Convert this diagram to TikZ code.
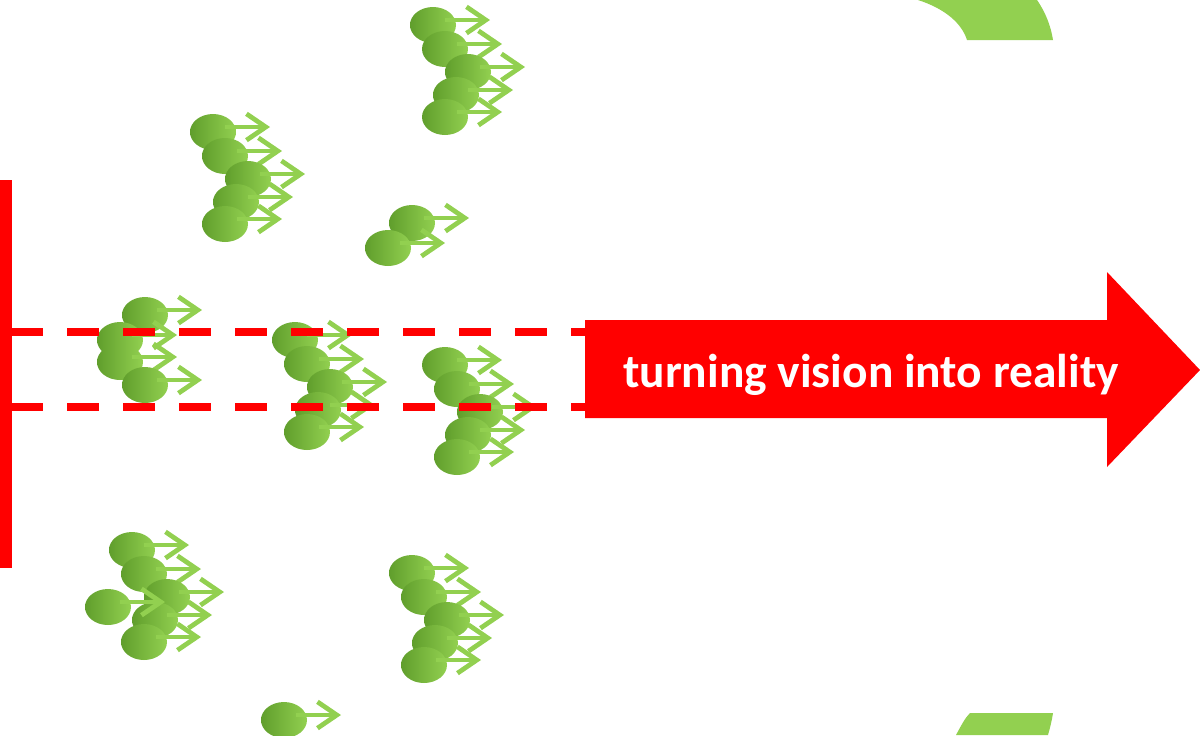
\documentclass[tikz,border=0pt]{standalone}
\usepackage{fontspec}
\setmainfont{Carlito}
\usepackage{xcolor}
\definecolor{gmred}{RGB}{255,0,0}
\definecolor{gmleaf}{RGB}{146,208,80}
\definecolor{gmleafdark}{RGB}{96,158,44}
\usepackage{tikz}
\usetikzlibrary{arrows.meta, shapes.geometric}

% one ellipse with its arrow
\newcommand{\sprout}[3]{%
  \node[sprout] (#1) at (#2,#3) {};
  \coordinate (#1-tip) at ([shift={(57,-5)}]#1.center);
  \draw[sproutarr] ([shift={(12,-5)}]#1.center) -- (#1-tip);
}
% five of them, top one at (#2,#3)
\newcommand{\sproutgroup}[3]{%
  \foreach \dx/\dy [count=\k] in {0/0, 12/24, 35/47, 23/70, 12/92}
    {\sprout{#1\k}{#2+\dx}{#3+\dy}}
}

\begin{document}
\begin{tikzpicture}[x=0.02cm, y=-0.02cm,
  sprout/.style={ellipse, inner sep=0pt, minimum width=0.92cm, minimum height=0.72cm,
                 left color=gmleafdark, right color=gmleaf},
  sproutarr/.style={draw=gmleaf, line width=2.7pt, -{Straight Barb[length=11pt, width=15pt]}},
  dashrule/.style={draw=gmred, line width=4.5pt, dash pattern=on 18.2pt off 13.7pt}
]
\useasboundingbox (0,0) rectangle (1200,735);

% Cycle pieces at the right
\fill[gmleaf] (918,0) -- (1037,0) .. controls (1046,13) and (1051,27) .. (1053,40)
  -- (967,40) .. controls (962,24) and (946,9) .. (918,0);
\fill[gmleaf] (970,713) -- (1053,713) .. controls (1052,720) and (1050,728) .. (1048,735)
  -- (956,735) .. controls (962,724) and (965,718) .. (970,713);

% Groups
\sproutgroup{a}{433}{25}
\sproutgroup{b}{213}{132}
\sprout{c1}{412}{223}
\sprout{c2}{388}{248}
\sprout{d1}{145}{315}
\sprout{d2}{120}{340}
\sprout{d3}{120}{362}
\sprout{d4}{145}{385}
\sproutgroup{e}{295}{340}
\sproutgroup{f}{445}{365}
\sproutgroup{g}{132}{550}
\sprout{g6}{108}{607}
\sproutgroup{h}{412}{573}
\sprout{i1}{284}{720}

% Corridor
\draw[dashrule] (11,332) -- (585,332);
\draw[dashrule] (11,407) -- (585,407);
\fill[gmred] (0,180) rectangle (12,568);

% Direction arrow
\fill[gmred] (585,320) -- (1107,320) -- (1107,272) -- (1200,370)
  -- (1107,467) -- (1107,418) -- (585,418) -- cycle;
\node[anchor=base, text=white, font=\fontsize{27}{32}\bfseries\selectfont]
  (slogan) at (871,387) {turning vision into reality};
\end{tikzpicture}
\end{document}
